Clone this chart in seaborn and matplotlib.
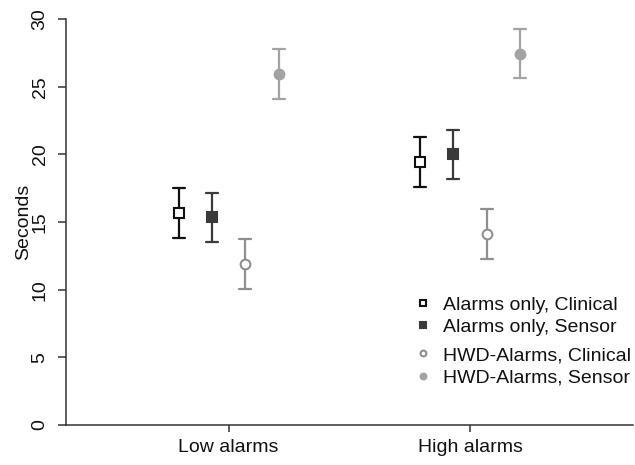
import numpy as np
import pandas as pd
import matplotlib
matplotlib.use("Agg")
import matplotlib.pyplot as plt
import seaborn as sns

# Mean response time (s) and 95% CI half-width per condition
conditions = ["Low alarms", "High alarms"]
series = ["Alarms only, Clinical", "Alarms only, Sensor",
          "HWD-Alarms, Clinical", "HWD-Alarms, Sensor"]
means = {
    "Alarms only, Clinical": [15.65, 19.45],
    "Alarms only, Sensor":   [15.35, 20.0],
    "HWD-Alarms, Clinical":  [11.9, 14.1],
    "HWD-Alarms, Sensor":    [25.95, 27.45],
}
half_ci = {
    "Alarms only, Clinical": [1.85, 1.83],
    "Alarms only, Sensor":   [1.83, 1.83],
    "HWD-Alarms, Clinical":  [1.86, 1.84],
    "HWD-Alarms, Sensor":    [1.84, 1.84],
}

colors = ["#111111", "#3a3a3a", "#8f8f8f", "#a3a3a3"]
markers = ["s", "s", "o", "o"]
hollow = {"Alarms only, Clinical", "HWD-Alarms, Clinical"}

# Long table: lower bound, mean, upper bound for each cell
rows = []
for s in series:
    for i, c in enumerate(conditions):
        m, h = means[s][i], half_ci[s][i]
        for v in (m - h, m, m + h):
            rows.append({"condition": c, "series": s, "seconds": v})
df = pd.DataFrame(rows)

sns.set_theme(style="ticks")
plt.rcParams["font.family"] = ["Liberation Sans", "DejaVu Sans"]
plt.rcParams["text.color"] = "#111111"
plt.rcParams["axes.labelcolor"] = "#111111"
plt.rcParams["xtick.color"] = "#333333"
plt.rcParams["ytick.color"] = "#333333"
plt.rcParams["xtick.labelcolor"] = "#111111"
plt.rcParams["ytick.labelcolor"] = "#111111"

fig = plt.figure(figsize=(6.35, 4.65), dpi=100)
ax = fig.add_axes([0.104, 0.086, 0.893, 0.873])

sns.pointplot(
    data=df, x="condition", y="seconds", hue="series",
    order=conditions, hue_order=series, palette=colors,
    markers=markers, linestyles="none",
    estimator="median", errorbar=lambda v: (v.min(), v.max()),
    dodge=0.414, capsize=0.05,
    err_kws={"linewidth": 1.6}, markersize=7,
    legend=False, ax=ax,
)

# Point lines (one per series, in hue order); make clinical ones hollow
point_lines = [ln for ln in ax.lines if ln.get_marker() not in (None, "", "None")]
handles = dict(zip(series, point_lines))
for s, line in handles.items():
    line.set_markeredgewidth(1.5)
    line.set_zorder(5)
    if s in hollow:
        line.set_markerfacecolor("white")

ax.set_ylim(0, 30)
ax.set_xlim(-0.673, 1.675)
ax.set_yticks([0, 5, 10, 15, 20, 25, 30])
ax.set_xlabel("")
ax.set_ylabel("Seconds", fontsize=14)
ax.yaxis.set_label_coords(-0.059, 0.5)
ax.tick_params(axis="both", labelsize=14, width=1.1)
ax.tick_params(axis="x", length=5, pad=5)
ax.tick_params(axis="y", length=6, pad=6.5)
for lbl in ax.get_yticklabels():
    lbl.set_rotation(90)
    lbl.set_va("center")
sns.despine(ax=ax)
for sp in ("left", "bottom"):
    ax.spines[sp].set_color("#333333")
    ax.spines[sp].set_linewidth(1.1)

leg_kw = dict(frameon=False, fontsize=14, markerscale=0.6, handlelength=0.8,
              handletextpad=0.6, labelspacing=0.25, borderpad=0, loc="upper left")
leg1 = ax.legend([handles[s] for s in series[:2]], series[:2],
                 bbox_to_anchor=(0.599, 0.342), **leg_kw)
ax.add_artist(leg1)
ax.legend([handles[s] for s in series[2:]], series[2:],
          bbox_to_anchor=(0.599, 0.217), **leg_kw)

fig.savefig("out.png", dpi=100)
